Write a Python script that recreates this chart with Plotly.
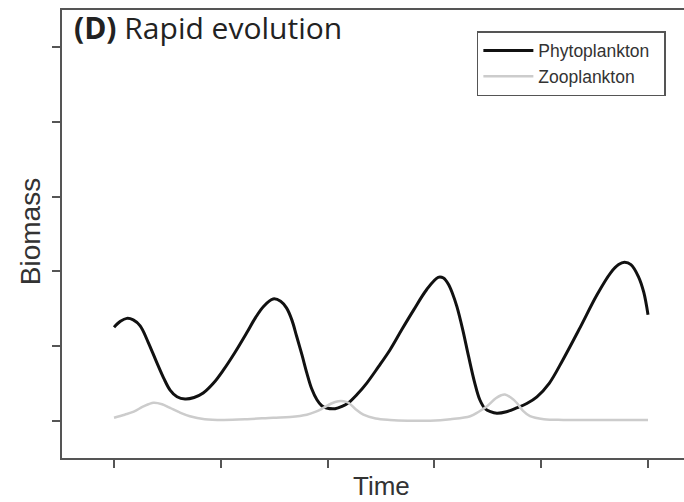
import plotly.graph_objects as go

# Phytoplankton biomass over time
phyto_t = [0, 1.2, 2.4, 3.6, 4.9, 6.4, 8, 9.3, 10.5, 11.8, 13.3, 15, 16.7, 18.6, 20.5, 22.7,
           24.8, 26.5, 28, 29.8, 31.2, 32.3, 33.3, 34.2, 35.2, 36.1, 37, 38, 38.9, 39.8,
           41.4, 42.7, 43.9, 45.5, 47.3, 49.5, 51.7, 53.9, 56.1, 58.5, 60.7, 61.7, 62.6,
           63.4, 64.2, 65.3, 66.4, 67.5, 68.5, 69.5, 70.5, 71.7, 73.5, 75.4, 77.3, 79.2,
           81.5, 84.1, 87.3, 90.4, 93, 94.5, 95.6, 96.8, 98.2, 99.2, 100]
phyto_y = [1.25, 1.33, 1.37, 1.35, 1.27, 1.05, 0.78, 0.57, 0.41, 0.32, 0.29, 0.31, 0.37, 0.50, 0.68, 0.92,
           1.17, 1.38, 1.53, 1.63, 1.60, 1.51, 1.35, 1.13, 0.88, 0.64, 0.43, 0.28, 0.20, 0.17,
           0.16, 0.19, 0.24, 0.35, 0.50, 0.72, 0.95, 1.22, 1.48, 1.75, 1.92, 1.91, 1.83,
           1.70, 1.53, 1.22, 0.86, 0.52, 0.28, 0.16, 0.12, 0.10, 0.12, 0.17, 0.23, 0.32,
           0.50, 0.82, 1.25, 1.68, 1.98, 2.09, 2.12, 2.09, 1.93, 1.72, 1.42]

# Zooplankton biomass over time
zoo_t = [0, 2, 3.7, 5.5, 7.4, 9, 10.5, 12.3, 14.2, 17, 20.5, 25, 29.8, 33, 36.1, 37.8, 39.2,
         40.7, 42, 43, 43.9, 45.3, 46.7, 49, 51.7, 55, 59.2, 63, 66.7, 68.3, 69.8, 71.5,
         72.5, 73.2, 74.3, 75.4, 76.6, 77.9, 80.5, 84.1, 90, 100]
zoo_y = [0.04, 0.08, 0.12, 0.19, 0.24, 0.22, 0.17, 0.11, 0.06, 0.02, 0.01, 0.02, 0.04, 0.05, 0.08, 0.12, 0.17,
         0.23, 0.26, 0.26, 0.24, 0.15, 0.08, 0.03, 0.01, 0.0, 0.0, 0.02, 0.06, 0.12, 0.19, 0.30,
         0.34, 0.35, 0.31, 0.24, 0.13, 0.06, 0.02, 0.01, 0.01, 0.01]

x_ticks = [0, 20, 40, 60, 80, 100]
y_ticks = [0, 1, 2, 3, 4, 5]

fig = go.Figure()
fig.add_trace(go.Scatter(x=phyto_t, y=phyto_y, mode="lines", name="Phytoplankton\u00a0\u00a0",
                         line=dict(color="#111111", width=3, shape="spline", smoothing=1.0)))
fig.add_trace(go.Scatter(x=zoo_t, y=zoo_y, mode="lines", name="Zooplankton",
                         line=dict(color="#cccccc", width=2.5, shape="spline", smoothing=1.0)))

axis_color = "#555555"
fig.update_layout(
    width=684, height=502,
    margin=dict(l=62, r=0, t=10, b=44),
    paper_bgcolor="white", plot_bgcolor="white",
    showlegend=True,
    legend=dict(x=0.667, y=0.953, xanchor="left", yanchor="top",
                bordercolor=axis_color, borderwidth=1.5, bgcolor="white",
                font=dict(family="Liberation Sans", size=17.5, color="#333333"),
                tracegroupgap=0, itemwidth=50),
    xaxis=dict(range=[-9.74, 106.74], tickvals=x_ticks, showticklabels=False,
               ticks="outside", ticklen=8, tickwidth=1.5, tickcolor=axis_color,
               showline=True, linecolor=axis_color, linewidth=1.5, mirror=True,
               showgrid=False, zeroline=False),
    yaxis=dict(range=[-0.5, 5.5], tickvals=y_ticks, showticklabels=False,
               ticks="outside", ticklen=8, tickwidth=1.5, tickcolor=axis_color,
               showline=True, linecolor=axis_color, linewidth=1.5, mirror=False,
               showgrid=False, zeroline=False),
    annotations=[
        dict(text="<b>(D)</b> Rapid evolution", xref="paper", yref="paper",
             x=0.0161, y=0.962, xanchor="left", yanchor="middle", showarrow=False,
             font=dict(family="Open Sans", size=30, color="#222222")),
        dict(text="Biomass", xref="paper", yref="paper", x=-0.0514, y=0.504,
             xanchor="center", yanchor="middle", textangle=-90, showarrow=False,
             font=dict(family="Liberation Sans", size=28, color="#333333")),
        dict(text="Time", xref="paper", yref="paper", x=0.513, y=-0.0625,
             xanchor="center", yanchor="middle", showarrow=False,
             font=dict(family="Liberation Sans", size=26, color="#333333")),
    ],
)

fig.write_html("out.html", config={"displayModeBar": False},
               post_script="document.body.style.margin='0px';")
